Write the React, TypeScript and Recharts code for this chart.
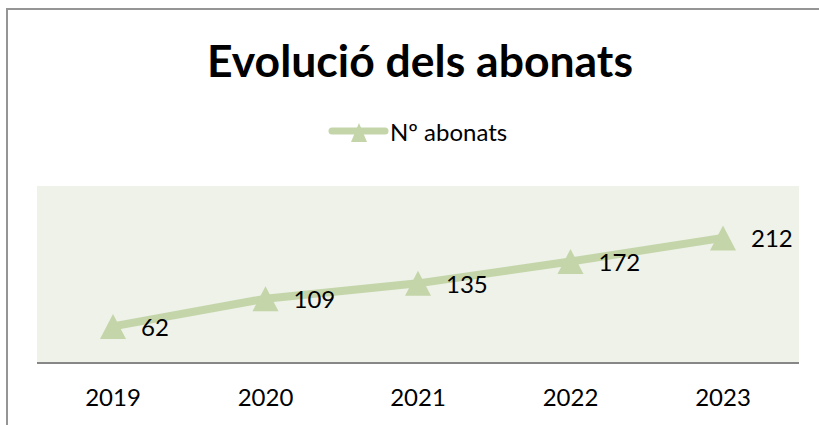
import React from 'react';
import { LineChart, Line, XAxis, YAxis, CartesianGrid, LabelList } from 'recharts';

const years = ['2019', '2020', '2021', '2022', '2023'];
const abonats = [62, 109, 135, 172, 212];
const seriesName = 'Nº abonats';
const title = 'Evolució dels abonats';

const data = years.map((y, i) => ({ year: y, value: abonats[i] }));

const GREEN = '#c4d5a9';
const FONT = 'Lato, "Open Sans", sans-serif';

const Triangle = (props: any) => {
  const { cx, cy } = props;
  if (cx == null || cy == null) return null;
  const w = 13, h = 12.5;
  return <polygon points={`${cx},${cy - h} ${cx - w},${cy + h} ${cx + w},${cy + h}`} fill={GREEN} />;
};

const ValueLabel = (props: any) => {
  const { x, y, value } = props;
  return (
    <text x={x + 28} y={y} dominantBaseline="central" textAnchor="start" fontSize={24} fontFamily={FONT} fill="#000">
      {value}
    </text>
  );
};

export default function App() {
  return (
    <div style={{ position: 'absolute', left: 0, top: 0, width: 819, height: 425, background: '#fff', overflow: 'hidden' }}>
      <div style={{ position: 'absolute', left: 6, top: 8, width: 900, height: 500, borderTop: '2px solid #959595', borderLeft: '2px solid #959595' }} />
      <div style={{ position: 'absolute', left: 0, top: 0 }}>
        <LineChart width={819} height={425} data={data} margin={{ top: 186, right: 20, bottom: 0, left: 37 }}>
          <CartesianGrid fill="#eef2e9" stroke="none" horizontal={false} vertical={false} />
          <XAxis
            dataKey="year"
            padding={{ left: 76, right: 76 }}
            axisLine={{ stroke: '#878787', strokeWidth: 2 }}
            tickLine={false}
            tickSize={0}
            tickMargin={26}
            height={62}
            tick={{ fontSize: 24, fill: '#000', fontFamily: FONT }}
          />
          <YAxis hide domain={[0, 300]} />
          <Line
            dataKey="value"
            name={seriesName}
            stroke={GREEN}
            strokeWidth={8}
            dot={<Triangle />}
            activeDot={false}
            isAnimationActive={false}
          >
            <LabelList dataKey="value" content={<ValueLabel />} />
          </Line>
        </LineChart>
      </div>
      <svg style={{ position: 'absolute', left: 0, top: 0 }} width={819} height={160}>
        <text x={207} y={77} fontFamily={FONT} fontWeight={700} fontSize={44.5} fill="#000" textLength={426} lengthAdjust="spacing">
          {title}
        </text>
        <line x1={332} y1={131} x2={385} y2={131} stroke={GREEN} strokeWidth={7} strokeLinecap="round" />
        <polygon points="359,123 351,142 367,142" fill={GREEN} />
        <text x={390} y={141} fontFamily={FONT} fontSize={24} fill="#000">
          {seriesName}
        </text>
      </svg>
    </div>
  );
}
